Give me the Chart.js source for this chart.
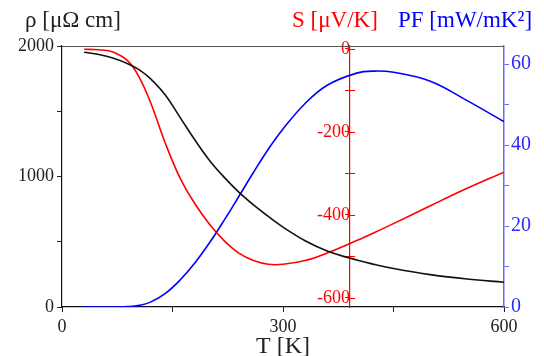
<!DOCTYPE html>
<html>
<head>
<meta charset="utf-8">
<script src="https://cdn.jsdelivr.net/npm/chart.js@4.4.0/dist/chart.umd.min.js"></script>
<style>
  html, body { margin: 0; padding: 0; background: #fff; }
  #wrap { width: 544px; height: 356px; }
</style>
</head>
<body>
<div id="wrap"><canvas id="chart"></canvas></div>
<script>
// values
const temperature = [30, 50, 70, 90, 105, 120, 140, 160, 180, 200, 220, 240, 260, 280, 300, 330, 360, 400, 425, 450, 500, 550, 600];
const resistivity = [1952, 1935, 1906, 1862, 1817, 1750, 1626, 1455, 1283, 1125, 995, 880, 782, 694, 612, 508, 430, 360, 325, 295, 248, 214, 190];
const seebeck = [-1, -2, -8, -30, -69, -128, -226, -310, -372, -422, -462, -492, -510, -519, -519, -510, -492, -462, -442, -421, -378, -336, -297];
const powerFactor = [0, 0, 0, 0.1, 0.4, 1.2, 3.3, 6.6, 10.8, 15.8, 21.4, 27.3, 33.3, 39.0, 44.0, 50.3, 54.8, 57.8, 58.3, 58.0, 55.8, 51.0, 45.8];

const tempLabels = [0, 300, 600];
const rhoLabels = [0, 1000, 2000];
const sLabels = [0, -200, -400, -600];
const pfLabels = [0, 20, 40, 60];
const sAxisAt = 391; // temperature where the S axis is drawn

const SERIF = '"Liberation Serif", "Times New Roman", serif';
const RED = '#ff0000';
const BLUE = '#0000ff';

const toPoints = values => temperature.map((t, i) => ({ x: t, y: values[i] }));

// top labels, frame line and the right half of the S ticks
const decorations = {
  id: 'decorations',
  afterDraw(chart) {
    const { ctx, chartArea, scales } = chart;
    ctx.save();
    ctx.lineWidth = 1;
    ctx.strokeStyle = '#555';
    ctx.beginPath();
    ctx.moveTo(chartArea.left, chartArea.top + 0.5);
    ctx.lineTo(chartArea.right, chartArea.top + 0.5);
    ctx.stroke();

    const sx = scales.x.getPixelForValue(sAxisAt);
    ctx.strokeStyle = RED;
    ctx.beginPath();
    scales.yS.ticks.forEach(t => {
      const y = Math.round(scales.yS.getPixelForValue(t.value)) + 0.5;
      ctx.moveTo(sx, y);
      ctx.lineTo(sx + 5, y);
    });
    ctx.stroke();

    ctx.font = '23px ' + SERIF;
    ctx.textBaseline = 'alphabetic';
    ctx.fillStyle = '#222';
    ctx.fillText('ρ [μΩ cm]', 25, 27);
    ctx.fillStyle = RED;
    ctx.fillText('S [μV/K]', 292, 27);
    ctx.fillStyle = BLUE;
    ctx.fillText('PF [mW/mK²]', 398, 27);
    ctx.restore();
  }
};

new Chart(document.getElementById('chart'), {
  type: 'line',
  data: {
    datasets: [
      { label: 'rho', data: toPoints(resistivity), yAxisID: 'yRho', borderColor: '#111' },
      { label: 'S', data: toPoints(seebeck), yAxisID: 'yS', borderColor: RED },
      { label: 'PF', data: toPoints(powerFactor), yAxisID: 'yPF', borderColor: BLUE }
    ]
  },
  options: {
    responsive: true,
    maintainAspectRatio: false,
    animation: false,
    layout: { padding: { top: 46, left: 0, right: 0, bottom: 0 } },
    elements: {
      point: { radius: 0 },
      line: { borderWidth: 1.6, tension: 0.4, fill: false }
    },
    plugins: { legend: { display: false }, tooltip: { enabled: false } },
    scales: {
      x: {
        type: 'linear',
        position: 'bottom',
        min: 0,
        max: 600,
        afterFit: s => { s.height = 49; },
        ticks: {
          stepSize: 150,
          padding: 4,
          color: '#222',
          font: { family: SERIF, size: 18 },
          callback: v => tempLabels.includes(v) ? v : ''
        },
        grid: { drawOnChartArea: false, tickLength: 5, color: '#222' },
        border: { color: '#111', width: 1.2 },
        title: {
          display: true,
          text: 'T [K]',
          color: '#222',
          font: { family: SERIF, size: 24, lineHeight: 1 },
          padding: { top: 4, bottom: -3 }
        }
      },
      yRho: {
        type: 'linear',
        position: 'left',
        min: 0,
        max: 2000,
        afterFit: s => { s.width = 62; },
        ticks: {
          stepSize: 500,
          padding: 3,
          color: '#222',
          font: { family: SERIF, size: 18 },
          callback: v => rhoLabels.includes(v) ? v : ''
        },
        grid: { drawOnChartArea: false, tickLength: 5, color: '#222' },
        border: { color: '#111', width: 1.2 }
      },
      yS: {
        type: 'linear',
        position: { x: sAxisAt },
        min: -622,
        max: 7,
        ticks: {
          stepSize: 100,
          includeBounds: false,
          padding: 3,
          color: RED,
          font: { family: SERIF, size: 18 },
          callback: v => sLabels.includes(v) ? v : ''
        },
        grid: { drawOnChartArea: false, tickLength: 4, color: RED },
        border: { color: RED, width: 1.2 }
      },
      yPF: {
        type: 'linear',
        position: 'right',
        min: 0,
        max: 64.5,
        afterFit: s => { s.width = 40; },
        ticks: {
          stepSize: 10,
          includeBounds: false,
          padding: 2,
          color: '#2a2aff',
          font: { family: SERIF, size: 20 },
          callback: v => pfLabels.includes(v) ? v : ''
        },
        grid: { drawOnChartArea: false, tickLength: 5, color: '#6a6aff' },
        border: { color: '#6a6aff', width: 1.5 }
      }
    }
  },
  plugins: [decorations]
});
</script>
</body>
</html>
